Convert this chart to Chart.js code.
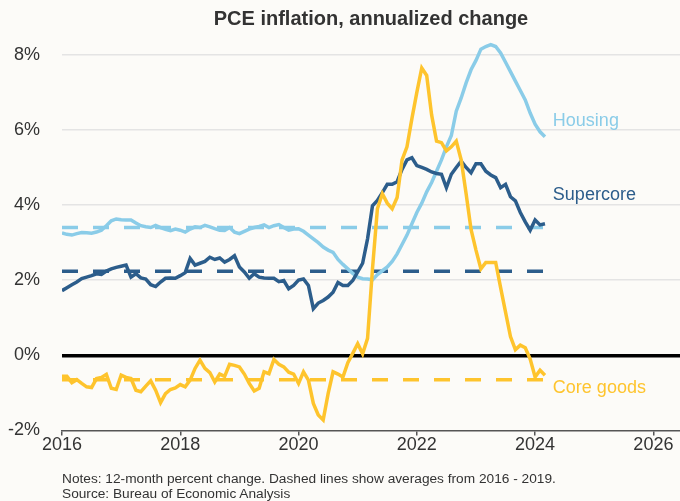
<!DOCTYPE html>
<html>
<head>
<meta charset="utf-8">
<script src="https://cdn.jsdelivr.net/npm/chart.js@4.4.1/dist/chart.umd.min.js"></script>
<style>
  body { margin: 0; background: #fcfbf8; }
  #wrap { position: relative; width: 680px; height: 501px; }
  #titulo {
    position: absolute; left: 62px; width: 618px; top: 7px; text-align: center;
    font: bold 20px "Liberation Sans", Arial, sans-serif; color: #333; line-height: 22px;
  }
  #notas {
    position: absolute; left: 62px; top: 471px;
    font: 13.7px "Liberation Sans", Arial, sans-serif; color: #333; line-height: 15px;
  }
</style>
</head>
<body>
<div id="wrap">
  <canvas id="grafico" width="680" height="501"></canvas>
  <div id="titulo">PCE inflation, annualized change</div>
  <div id="notas">Notes: 12-month percent change. Dashed lines show averages from 2016 - 2019.<br>Source: Bureau of Economic Analysis</div>
</div>
<script>
// meses desde ene 2016 hasta mar 2024
const inicio = 2016;

const housing = [
  3.26, 3.22, 3.20, 3.24, 3.27, 3.26, 3.25, 3.28, 3.33, 3.45,
  3.58, 3.63, 3.61, 3.60, 3.60, 3.52, 3.45, 3.42, 3.40, 3.46,
  3.40, 3.35, 3.32, 3.36, 3.33, 3.28, 3.36, 3.42, 3.40, 3.46,
  3.42, 3.37, 3.33, 3.32, 3.40, 3.28, 3.24, 3.30, 3.36, 3.40,
  3.43, 3.47, 3.40, 3.45, 3.48, 3.40, 3.33, 3.36, 3.37, 3.30,
  3.20, 3.10, 3.00, 2.88, 2.80, 2.74, 2.55, 2.42, 2.30, 2.18,
  2.08, 2.04, 2.03, 2.01, 2.15, 2.25, 2.35, 2.50, 2.70, 2.95,
  3.20, 3.50, 3.80, 4.05, 4.35, 4.60, 4.90, 5.20, 5.55, 5.85,
  6.50, 6.85, 7.25, 7.60, 7.85, 8.15, 8.22, 8.27, 8.22, 8.05,
  7.80, 7.55, 7.30, 7.05, 6.80, 6.45, 6.15, 5.95, 5.82
];

const supercore = [
  1.72, 1.80, 1.88, 1.95, 2.04, 2.08, 2.12, 2.17, 2.15, 2.24,
  2.30, 2.34, 2.37, 2.40, 2.08, 2.17, 2.06, 2.03, 1.88, 1.83,
  1.95, 2.05, 2.06, 2.05, 2.12, 2.20, 2.58, 2.40, 2.45, 2.50,
  2.61, 2.55, 2.59, 2.48, 2.55, 2.65, 2.35, 2.22, 2.05, 2.17,
  2.08, 2.06, 2.05, 2.05, 1.96, 1.99, 1.77, 1.86, 2.00, 2.03,
  1.86, 1.24, 1.39, 1.46, 1.55, 1.68, 1.94, 1.86, 1.86, 1.99,
  2.22, 2.45, 3.10, 3.98, 4.12, 4.33, 4.55, 4.55, 4.62, 4.95,
  5.20, 5.26, 5.05, 5.00, 4.95, 4.88, 4.84, 4.82, 4.46, 4.82,
  5.00, 5.17, 5.00, 4.86, 5.10, 5.10, 4.90, 4.80, 4.73, 4.46,
  4.55, 4.22, 4.11, 3.80, 3.55, 3.33, 3.60, 3.47, 3.50
];

const coreGoods = [
  -0.56, -0.56, -0.73, -0.65, -0.75, -0.84, -0.86, -0.62, -0.59, -0.51,
  -0.88, -0.91, -0.53, -0.59, -0.62, -0.93, -0.97, -0.82, -0.68, -0.93,
  -1.26, -1.02, -0.91, -0.87, -0.78, -0.84, -0.66, -0.35, -0.13, -0.35,
  -0.46, -0.71, -0.50, -0.56, -0.24, -0.27, -0.31, -0.50, -0.75, -0.95,
  -0.88, -0.44, -0.49, -0.11, -0.24, -0.31, -0.45, -0.50, -0.75, -0.44,
  -0.66, -1.28, -1.59, -1.72, -1.02, -0.44, -0.50, -0.58, -0.20, 0.05,
  0.31, 0.04, 0.45, 2.30, 3.90, 4.30, 4.05, 3.90, 4.20, 5.20,
  5.55, 6.30, 7.00, 7.65, 7.45, 6.40, 5.70, 5.66, 5.44, 5.55,
  5.70, 5.20, 4.30, 3.35, 2.80, 2.30, 2.47, 2.47, 2.47, 1.80,
  1.15, 0.50, 0.15, 0.27, 0.20, -0.10, -0.58, -0.40, -0.53
];

// promedios 2016 - 2019
const promHousing = 3.40;
const promSupercore = 2.24;
const promCoreGoods = -0.65;

const ticksY = [-2, 0, 2, 4, 6, 8];
const ticksX = [2016, 2018, 2020, 2022, 2024, 2026];

const colores = {
  housing: "#8accE8",
  supercore: "#2c5d8b",
  coreGoods: "#fec42d",
};

const fuente = "'Liberation Sans', Arial, sans-serif";

const fechas = housing.map((_, i) => inicio + i / 12);
const fin = fechas[fechas.length - 1];
const puntos = (serie) => serie.map((v, i) => ({ x: fechas[i], y: v }));
const plano = (v) => [{ x: inicio, y: v }, { x: fin, y: v }];

const etiquetas = [
  { texto: "Housing", y: 6.23, color: colores.housing },
  { texto: "Supercore", y: 4.27, color: colores.supercore },
  { texto: "Core goods", y: -0.88, color: colores.coreGoods },
];

const pluginEtiquetas = {
  id: "etiquetas",
  afterDatasetsDraw(chart) {
    const { ctx, scales } = chart;
    ctx.save();
    ctx.font = "18px " + fuente;
    ctx.textBaseline = "middle";
    etiquetas.forEach((e) => {
      ctx.fillStyle = e.color;
      ctx.fillText(e.texto, scales.x.getPixelForValue(2024.3), scales.y.getPixelForValue(e.y));
    });
    ctx.restore();
  },
};

const linea = (serie, color) => ({
  data: puntos(serie),
  borderColor: color,
  borderWidth: 3.5,
  pointRadius: 0,
  tension: 0,
});

const discontinua = (valor, color) => ({
  data: plano(valor),
  borderColor: color,
  borderWidth: 3.5,
  borderDash: [16, 15],
  pointRadius: 0,
});

const ctx = document.getElementById("grafico").getContext("2d");
new Chart(ctx, {
  type: "line",
  data: {
    datasets: [
      linea(coreGoods, colores.coreGoods),
      linea(supercore, colores.supercore),
      linea(housing, colores.housing),
      discontinua(promCoreGoods, colores.coreGoods),
      discontinua(promSupercore, colores.supercore),
      discontinua(promHousing, colores.housing),
    ],
  },
  options: {
    responsive: false,
    animation: false,
    layout: { padding: { left: 0, right: 0, top: 36, bottom: 46 } },
    plugins: {
      legend: { display: false },
      tooltip: { enabled: false },
    },
    scales: {
      x: {
        type: "linear",
        min: 2016,
        max: 2026.45,
        afterBuildTicks: (axis) => { axis.ticks = ticksX.map((v) => ({ value: v })); },
        ticks: {
          callback: (v) => String(v),
          color: "#333",
          font: { family: fuente, size: 18 },
          padding: -1,
          maxRotation: 0,
        },
        grid: { display: true, drawOnChartArea: false, drawTicks: true, tickLength: 5, color: "#555", lineWidth: 1.5 },
        border: { display: true, color: "#555", width: 1.5 },
      },
      y: {
        min: -2,
        max: 8.5,
        afterBuildTicks: (axis) => { axis.ticks = ticksY.map((v) => ({ value: v })); },
        afterFit: (axis) => { axis.width = 62; },
        ticks: {
          callback: (v) => v + "%",
          color: "#333",
          font: { family: fuente, size: 18 },
          padding: 22,
        },
        grid: {
          drawTicks: false,
          color: (c) => (c.tick.value === 0 ? "#000" : c.tick.value === -2 ? "rgba(0,0,0,0)" : "#e4e4e4"),
          lineWidth: (c) => (c.tick.value === 0 ? 3.5 : 1.5),
        },
        border: { display: false },
      },
    },
  },
  plugins: [pluginEtiquetas],
});
</script>
</body>
</html>
